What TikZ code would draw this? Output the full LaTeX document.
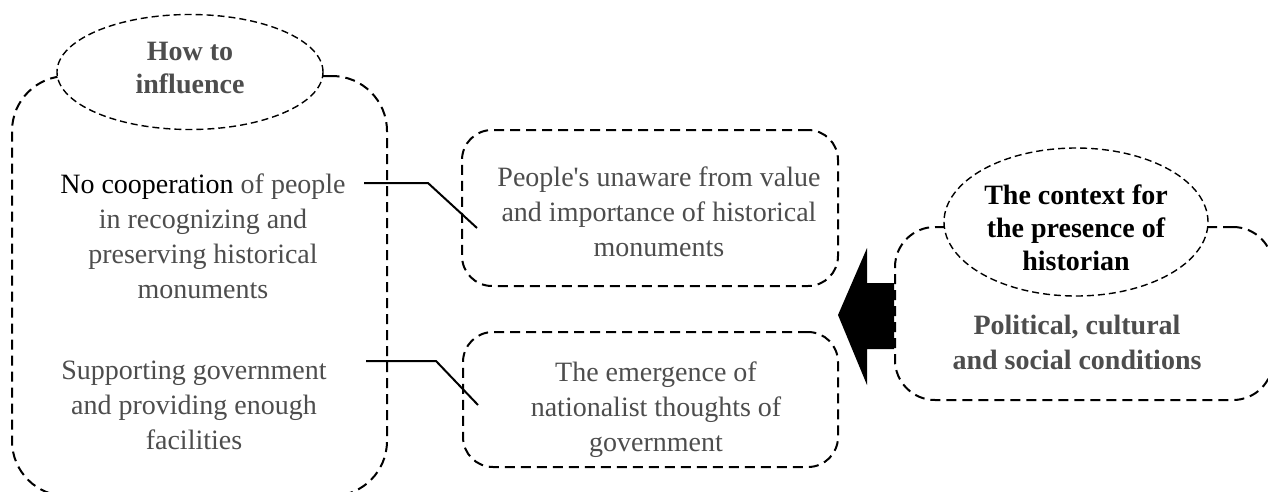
\documentclass[tikz,border=0pt]{standalone}
\usepackage{fontspec}
\setmainfont{Liberation Serif}[Ligatures=TeXOff]
\usetikzlibrary{shapes.geometric}
\definecolor{txtgray}{HTML}{4D4D4D}
\tikzset{
  dbox/.style={draw=black, line width=2pt, dash pattern=on 10pt off 6pt, inner sep=0pt, fill=white},
  dell/.style={ellipse, draw=black, line width=1.4pt, dash pattern=on 7pt off 4pt, fill=white, inner sep=0pt},
  body/.style={font=\fontsize{28}{35}\selectfont, text=txtgray, align=center, inner sep=0pt},
  title/.style={font=\fontsize{28}{33}\selectfont\bfseries, align=center, inner sep=0pt},
  link/.style={draw=black, line width=2pt},
}
\begin{document}
\begin{tikzpicture}[x=1pt,y=-1pt]
\useasboundingbox (0,0) rectangle (1268,491);
% left group
\node[dbox, rounded corners=55pt, minimum width=375pt, minimum height=420pt] (lbox) at (199.5,286) {};
\node[dell, minimum width=266pt, minimum height=115pt] (lell) at (190,72) {};
\node[title, text=txtgray] (ltitle) at (190,68) {How to\\influence};
\node[body] (ltext1) at (203,236) {\textcolor{black}{No cooperation} of people\\in recognizing and\\preserving historical\\monuments};
\node[body] (ltext2) at (194,405) {Supporting government\\and providing enough\\facilities};
% middle boxes
\node[dbox, rounded corners=30pt, minimum width=376pt, minimum height=156pt] (mtop) at (650,208) {};
\node[body] (mtext1) at (659,212) {People's unaware from value\\and importance of historical\\monuments};
\node[dbox, rounded corners=30pt, minimum width=375pt, minimum height=135pt] (mbot) at (650.5,399.5) {};
\node[body] (mtext2) at (656,410) {The emergence of\\nationalist thoughts of\\government};
% right group
\node[dbox, rounded corners=40pt, minimum width=378pt, minimum height=173pt] (rbox) at (1084,313.5) {};
\node[dell, minimum width=264pt, minimum height=148pt] (rell) at (1076,222) {};
\node[title] (rtitle) at (1076,228) {The context for\\the presence of\\historian};
\node[title, text=txtgray, font=\fontsize{28}{35}\selectfont\bfseries] (rtext) at (1077,342) {Political, cultural\\and social conditions};
% connectors
\coordinate (c1s) at (364,183);
\coordinate (c1b) at (428,183);
\coordinate (c1e) at (477,228);
\coordinate (c2s) at (366,361);
\coordinate (c2b) at (436,361);
\coordinate (c2e) at (478,405);
\draw[link] (c1s) -- (c1b) -- (c1e);
\draw[link] (c2s) -- (c2b) -- (c2e);
% big arrow
\fill[black] (838,315) -- (867,248) -- (867,283) -- (rbox.west |- 0,283) -- (rbox.west |- 0,349) -- (867,349) -- (867,385) -- cycle;
\end{tikzpicture}
\end{document}
